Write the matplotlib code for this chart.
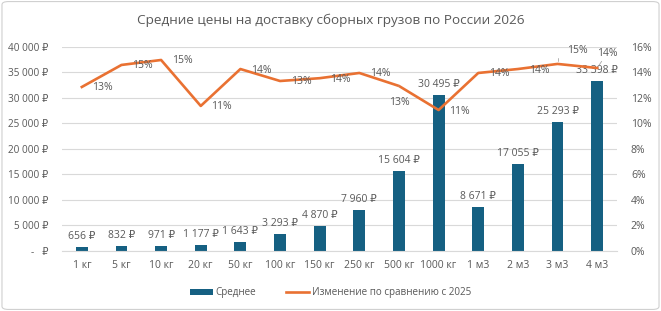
# %%
# Load imports
import matplotlib
matplotlib.use('Agg')
import matplotlib.pyplot as plt
from matplotlib.ticker import FuncFormatter, MultipleLocator
from matplotlib.patches import FancyBboxPatch
import numpy as np

# %%
# Data
categories = ['1 кг', '5 кг', '10 кг', '20 кг', '50 кг', '100 кг', '150 кг', '250 кг',
              '500 кг', '1000 кг', '1 м3', '2 м3', '3 м3', '4 м3']
avg_price = [656, 832, 971, 1177, 1643, 3293, 4870, 7960, 15604, 30495, 8671, 17055, 25293, 33398]
change_pct = [12.86, 14.59, 14.98, 11.37, 14.27, 13.33, 13.55, 13.96, 12.94, 11.05,
              13.96, 14.27, 14.67, 14.35]

title = 'Средние цены на доставку сборных грузов по России 2026'
bar_label = 'Среднее'
line_label = 'Изменение по сравнению с 2025'

# %%
# Style
plt.rcParams['font.family'] = ['Open Sans', 'DejaVu Sans']
text_color = '#595959'
bar_color = '#156082'
line_color = '#E97132'
grid_color = '#D9D9D9'

def rub(v):
    s = f'{int(round(v)):,}'.replace(',', ' ')
    return f'{s} ₽'

def rub_axis(v, pos):
    if v == 0:
        return '-   ₽'
    return rub(v)

# %%
fig = plt.figure(figsize=(6.61, 3.11), dpi=100)
border = FancyBboxPatch((0.003, 0.005), 0.994, 0.99, boxstyle='round,pad=0,rounding_size=0.01',
                        transform=fig.transFigure, facecolor='none', edgecolor='#D0D0D0', lw=0.8, zorder=-1)
fig.patches.append(border)

ax = fig.add_axes([62 / 661, 60.3 / 311, 555 / 661, 203.7 / 311])
ax.patch.set_alpha(0)
x = np.arange(len(categories))

bars = ax.bar(x, avg_price, width=0.3, color=bar_color, zorder=2, label=bar_label)
ax.set_xlim(-0.5, len(categories) - 0.5)
ax.set_ylim(0, 40000)
ax.yaxis.set_major_locator(MultipleLocator(5000))
ax.yaxis.set_major_formatter(FuncFormatter(rub_axis))
ax.set_xticks(x)
ax.set_xticklabels(categories)
ax.grid(axis='y', color=grid_color, lw=0.8, zorder=0)
for s in ax.spines.values():
    s.set_visible(False)
ax.spines['bottom'].set_visible(True)
ax.spines['bottom'].set_color(grid_color)
ax.tick_params(length=0, labelsize=7.5, colors=text_color)
ax.tick_params(axis='x', pad=7)
ax.tick_params(axis='y', labelsize=7.2, pad=10)

# Bar labels
for xi, v in zip(x, avg_price):
    ax.annotate(rub(v), (xi, v), xytext=(0, 5), textcoords='offset pixels',
                ha='center', va='bottom', fontsize=7.5, color=text_color, zorder=5)

# Secondary axis with line
ax2 = ax.twinx()
ax2.plot(x, np.array(change_pct) / 100, color=line_color, lw=1.9, zorder=3, label=line_label)
ax2.set_ylim(0, 0.16)
ax2.yaxis.set_major_locator(MultipleLocator(0.02))
ax2.yaxis.set_major_formatter(FuncFormatter(lambda v, p: f'{v * 100:.0f}%'))
for s in ax2.spines.values():
    s.set_visible(False)
ax2.tick_params(length=0, labelsize=7.5, colors=text_color, pad=10)

# Line labels (Excel-like positions)
for i, v in enumerate(change_pct):
    lbl = f'{round(v):.0f}%'
    pt = (x[i], v / 100)
    if i == 8:
        ax2.annotate(lbl, pt, xytext=(0, -17), textcoords='offset pixels', ha='center', va='center',
                     fontsize=7.5, color=text_color,
                     arrowprops=dict(arrowstyle='-', color='#A6A6A6', lw=0.6, shrinkA=6, shrinkB=2))
    elif i == 12:
        ax2.annotate(lbl, pt, xytext=(20, 13), textcoords='offset pixels', ha='center', va='center',
                     fontsize=7.5, color=text_color,
                     arrowprops=dict(arrowstyle='-', color='#A6A6A6', lw=0.6, shrinkA=7, shrinkB=2,
                                     connectionstyle='angle,angleA=0,angleB=90,rad=0'))
    elif i == 13:
        ax2.annotate(lbl, pt, xytext=(10, 15), textcoords='offset pixels', ha='center', va='center',
                     fontsize=7.5, color=text_color,
                     arrowprops=dict(arrowstyle='-', color='#A6A6A6', lw=0.6, shrinkA=6, shrinkB=2))
    else:
        ax2.annotate(lbl, pt, xytext=(21, -1), textcoords='offset pixels', ha='center', va='center',
                     fontsize=7.5, color=text_color)

fig.text(0.5, 0.935, title, ha='center', va='center', fontsize=9.7, color=text_color)

h1, l1 = ax.get_legend_handles_labels()
h2, l2 = ax2.get_legend_handles_labels()
fig.legend(h1 + h2, l1 + l2, loc='center', bbox_to_anchor=(0.5, 0.058), ncol=2, frameon=False,
           fontsize=7.1, labelcolor=text_color, handlelength=2.3, handleheight=0.6,
           columnspacing=3.0, handletextpad=0.3)

fig.savefig('out.png', dpi=100)
